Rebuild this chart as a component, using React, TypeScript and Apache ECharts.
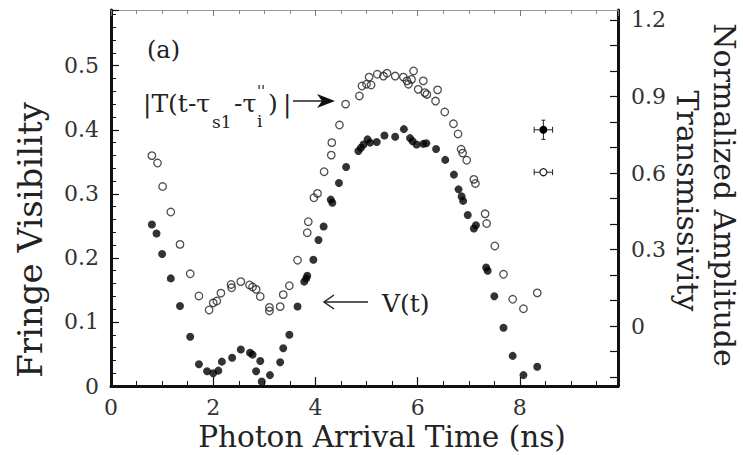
import React, { useEffect, useRef } from "react";
import * as echarts from "echarts";

// ---- data ----
// V(t): fringe visibility, left axis
const visTimes = [0.80, 0.89, 1.00, 1.17, 1.35, 1.55, 1.72, 1.88, 2.00, 2.10, 2.17, 2.37, 2.54, 2.72, 2.77, 2.84, 2.92, 2.95, 3.11, 3.31, 3.37, 3.49, 3.65, 3.78, 3.82, 3.84, 3.96, 4.06, 4.16, 4.30, 4.33, 4.46, 4.60, 4.84, 4.89, 4.94, 5.02, 5.07, 5.20, 5.35, 5.56, 5.73, 5.85, 5.90, 5.98, 6.11, 6.17, 6.36, 6.54, 6.71, 6.80, 6.86, 6.89, 6.98, 7.10, 7.14, 7.34, 7.37, 7.50, 7.68, 7.86, 8.07, 8.34];
const visValues = [0.252, 0.238, 0.206, 0.168, 0.125, 0.077, 0.034, 0.023, 0.020, 0.024, 0.038, 0.044, 0.057, 0.052, 0.049, 0.023, 0.039, 0.007, 0.017, 0.037, 0.059, 0.080, 0.124, 0.163, 0.168, 0.172, 0.197, 0.228, 0.249, 0.291, 0.286, 0.317, 0.342, 0.367, 0.372, 0.377, 0.385, 0.380, 0.381, 0.391, 0.389, 0.401, 0.387, 0.382, 0.377, 0.378, 0.379, 0.370, 0.353, 0.330, 0.307, 0.296, 0.289, 0.267, 0.246, 0.251, 0.185, 0.180, 0.140, 0.091, 0.047, 0.017, 0.030];

// |T(t - tau_s1 - tau_i'')|: normalized amplitude transmissivity, right axis
const transTimes = [0.80, 0.91, 1.01, 1.17, 1.35, 1.55, 1.72, 1.92, 2.00, 2.07, 2.15, 2.35, 2.36, 2.54, 2.71, 2.77, 2.84, 2.92, 3.10, 3.10, 3.31, 3.37, 3.49, 3.65, 3.84, 3.86, 3.97, 4.04, 4.17, 4.31, 4.32, 4.47, 4.59, 4.86, 4.91, 5.00, 5.05, 5.09, 5.21, 5.33, 5.40, 5.56, 5.72, 5.79, 5.82, 5.88, 5.92, 6.01, 6.11, 6.14, 6.18, 6.35, 6.39, 6.53, 6.70, 6.79, 6.85, 6.88, 6.96, 7.10, 7.13, 7.32, 7.35, 7.51, 7.68, 7.86, 8.07, 8.34];
const transValues = [0.668, 0.639, 0.547, 0.447, 0.320, 0.205, 0.118, 0.063, 0.091, 0.098, 0.129, 0.163, 0.150, 0.174, 0.161, 0.153, 0.144, 0.116, 0.073, 0.059, 0.076, 0.123, 0.158, 0.258, 0.366, 0.409, 0.503, 0.520, 0.605, 0.670, 0.719, 0.788, 0.870, 0.902, 0.941, 0.948, 0.976, 0.945, 0.987, 0.980, 0.991, 0.980, 0.976, 0.961, 0.948, 0.967, 1.000, 0.928, 0.961, 0.915, 0.908, 0.882, 0.926, 0.839, 0.793, 0.753, 0.693, 0.678, 0.650, 0.575, 0.559, 0.440, 0.402, 0.314, 0.203, 0.105, 0.068, 0.130];

// representative error bars: [x, y, xErr, yErr]
const visErrorBar = [[8.46, 0.400, 0.18, 0.015]];
const transErrorBar = [[8.46, 0.603, 0.18, 0.0]];

// axis ranges and ticks
const xRange = [0, 9.92];
const xTickStep = 2;
const leftRange = [0, 0.587];
const leftTickStep = 0.1;
const rightRange = [-0.235, 1.239];
const rightTickStep = 0.1;
const rightLabelStep = 0.3;

const FONT = '"DejaVu Serif", serif';

function errorBarItem(filled: boolean) {
  return (params: any, api: any) => {
    const x = api.value(0);
    const y = api.value(1);
    const ex = api.value(2);
    const ey = api.value(3);
    const c = api.coord([x, y]);
    const l = api.coord([x - ex, y]);
    const r = api.coord([x + ex, y]);
    const t = api.coord([x, y + ey]);
    const b = api.coord([x, y - ey]);
    const st = { stroke: "#222", lineWidth: 1 };
    const children: any[] = [
      { type: "line", shape: { x1: l[0], y1: l[1], x2: r[0], y2: r[1] }, style: st },
      { type: "line", shape: { x1: l[0], y1: l[1] - 3, x2: l[0], y2: l[1] + 3 }, style: st },
      { type: "line", shape: { x1: r[0], y1: r[1] - 3, x2: r[0], y2: r[1] + 3 }, style: st },
    ];
    if (ey > 0) {
      children.push(
        { type: "line", shape: { x1: t[0], y1: t[1], x2: b[0], y2: b[1] }, style: st },
        { type: "line", shape: { x1: t[0] - 2, y1: t[1], x2: t[0] + 2, y2: t[1] }, style: st },
        { type: "line", shape: { x1: b[0] - 2, y1: b[1], x2: b[0] + 2, y2: b[1] }, style: st }
      );
    }
    children.push({
      type: "circle",
      shape: { cx: c[0], cy: c[1], r: filled ? 4 : 3.5 },
      style: filled ? { fill: "#000" } : { fill: "#fff", stroke: "#222", lineWidth: 1.3 },
    });
    return { type: "group", children };
  };
}

function txt(text: string, x: number, y: number, size: number, extra: any = {}) {
  return {
    type: "text",
    x,
    y,
    rotation: extra.rotation || 0,
    style: {
      text,
      fontSize: size,
      fontFamily: FONT,
      fill: extra.fill || "#222",
      align: extra.align || "left",
      textAlign: extra.align || "left",
      verticalAlign: "middle",
      textVerticalAlign: "middle",
    },
  };
}

export default function App() {
  const ref = useRef<HTMLDivElement>(null);
  useEffect(() => {
    if (!ref.current) return;
    const chart = echarts.init(ref.current, undefined, { renderer: "svg" });
    const axisLabelStyle = { fontSize: 22, fontFamily: FONT, color: "#333" };
    const option: any = {
      animation: false,
      backgroundColor: "#fff",
      grid: { left: 111, right: 125, top: 10, bottom: 69, containLabel: false },
      xAxis: [
        {
          type: "value",
          position: "bottom",
          min: xRange[0],
          max: xRange[1],
          interval: xTickStep,
          axisLine: { show: true, onZero: false, lineStyle: { color: "#111", width: 3 } },
          axisTick: { show: true, inside: true, length: 9, lineStyle: { color: "#111", width: 1.2 } },
          minorTick: { show: true, splitNumber: 4, length: 5, lineStyle: { color: "#111", width: 1 } },
          axisLabel: { ...axisLabelStyle, margin: 10, showMaxLabel: false },
          splitLine: { show: false },
        },
        {
          type: "value",
          position: "top",
          min: xRange[0],
          max: xRange[1],
          interval: xTickStep,
          axisLine: { show: true, onZero: false, lineStyle: { color: "#999", width: 1 } },
          axisTick: { show: true, inside: true, length: 6, lineStyle: { color: "#777", width: 1 } },
          minorTick: { show: true, splitNumber: 4, length: 4, lineStyle: { color: "#888", width: 1 } },
          axisLabel: { show: false },
          splitLine: { show: false },
        },
      ],
      yAxis: [
        {
          type: "value",
          position: "left",
          min: leftRange[0],
          max: leftRange[1],
          interval: leftTickStep,
          axisLine: { show: true, onZero: false, lineStyle: { color: "#111", width: 3 } },
          axisTick: { show: true, inside: true, length: 8, lineStyle: { color: "#111", width: 1.2 } },
          minorTick: { show: true, splitNumber: 5, length: 5, lineStyle: { color: "#111", width: 1 } },
          axisLabel: {
            ...axisLabelStyle,
            margin: 12,
            showMaxLabel: false,
            formatter: (v: number) => (Math.abs(v) < 1e-9 ? "0" : v.toFixed(1)),
          },
          splitLine: { show: false },
        },
        {
          type: "value",
          position: "right",
          min: rightRange[0],
          max: rightRange[1],
          minInterval: rightTickStep,
          maxInterval: rightTickStep,
          splitNumber: 15,
          axisLine: { show: true, onZero: false, lineStyle: { color: "#111", width: 3 } },
          axisTick: { show: true, inside: true, length: 8, lineStyle: { color: "#111", width: 1.2 } },
          axisLabel: {
            ...axisLabelStyle,
            margin: 13,
            showMinLabel: false,
            showMaxLabel: false,
            formatter: (v: number) => {
              const k = Math.round(v / rightLabelStep);
              if (Math.abs(v - k * rightLabelStep) > 1e-6) return "";
              return k === 0 ? "0" : (k * rightLabelStep).toFixed(1);
            },
          },
          splitLine: { show: false },
        },
      ],
      series: [
        {
          name: "V(t)",
          type: "scatter",
          xAxisIndex: 0,
          yAxisIndex: 0,
          symbol: "circle",
          symbolSize: 8,
          itemStyle: { color: "#000" },
          data: visTimes.map((t, i) => [t, visValues[i]]),
        },
        {
          name: "|T(t-τs1-τi'')|",
          type: "scatter",
          xAxisIndex: 0,
          yAxisIndex: 1,
          symbol: "circle",
          symbolSize: 7.5,
          itemStyle: { color: "rgba(255,255,255,0)", borderColor: "#222", borderWidth: 1.3 },
          data: transTimes.map((t, i) => [t, transValues[i]]),
        },
        {
          type: "custom",
          xAxisIndex: 0,
          yAxisIndex: 0,
          renderItem: errorBarItem(true),
          data: visErrorBar,
          z: 5,
        },
        {
          type: "custom",
          xAxisIndex: 0,
          yAxisIndex: 1,
          renderItem: errorBarItem(false),
          data: transErrorBar,
          z: 5,
        },
      ],
      graphic: [
        txt("(a)", 147, 50, 24),
        txt("|T(t-τ", 143, 103, 25),
        txt("s1", 212, 122, 17),
        txt("-τ", 234, 103, 25),
        txt("i", 257, 121, 17),
        txt("''", 257, 91, 15),
        txt(")", 268, 103, 25),
        txt("|", 283, 103, 25),
        { type: "line", shape: { x1: 293, y1: 101, x2: 322, y2: 101 }, style: { stroke: "#222", lineWidth: 1.5 } },
        { type: "polygon", shape: { points: [[335, 101], [317, 94], [322, 101], [317, 108]] }, style: { fill: "#111" } },
        txt("V(t)", 382, 303, 25),
        { type: "line", shape: { x1: 325, y1: 302, x2: 368, y2: 302 }, style: { stroke: "#222", lineWidth: 1.5 } },
        { type: "polyline", shape: { points: [[334, 295], [324, 302], [334, 309]] }, style: { stroke: "#222", lineWidth: 1.5, fill: "none" } },
        txt("Fringe Visibility", 30, 240, 34, { rotation: Math.PI / 2, align: "center" }),
        txt("Photon Arrival Time (ns)", 382, 437, 29.5, { align: "center" }),
        txt("Normalized Amplitude", 724, 195, 30, { rotation: -Math.PI / 2, align: "center" }),
        txt("Transmissivity", 687, 201, 30, { rotation: -Math.PI / 2, align: "center" }),
      ],
    };
    chart.setOption(option);
    return () => chart.dispose();
  }, []);
  return (
    <div
      ref={ref}
      style={{ position: "absolute", left: 0, top: 0, width: 743, height: 455, background: "#fff" }}
    />
  );
}
